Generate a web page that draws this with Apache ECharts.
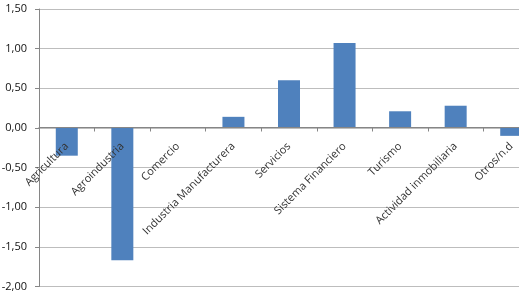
<!DOCTYPE html>
<html><head><meta charset="utf-8">
<script src="https://cdn.jsdelivr.net/npm/echarts@6/dist/echarts.min.js"></script>
<style>html,body{margin:0;padding:0;background:#fff}#c{width:519px;height:291px}</style>
</head><body><div id="c"></div>
<script>
var categories = ["Agricultura","Agroindustria","Comercio","Industria Manufacturera","Servicios","Sistema Financiero","Turismo","Actividad inmobiliaria","Otros/n.d"];
var values = [-0.35, -1.67, 0, 0.14, 0.60, 1.07, 0.21, 0.28, -0.10];
var chart = echarts.init(document.getElementById('c'));
chart.setOption({
  animation: false,
  grid: {left: 39, top: 9, width: 500, bottom: 4.5, containLabel: false, outerBoundsMode: 'none'},
  xAxis: {
    type: 'category', data: categories, offset: -159, z: 10,
    axisLine: {onZero: false, lineStyle: {color: '#868686', width: 1}},
    axisTick: {show: true, length: 4, lineStyle: {color: '#868686'}},
    axisLabel: {rotate: 45, interval: 0, margin: 17, fontFamily: 'Open Sans', fontSize: 11, color: '#333', hideOverlap: false}
  },
  yAxis: {
    type: 'value', min: -2, max: 1.5, interval: 0.5,
    axisLine: {show: true, lineStyle: {color: '#868686'}},
    axisTick: {show: true, length: 4, lineStyle: {color: '#868686'}},
    splitLine: {lineStyle: {color: '#bdbdbd'}},
    axisLabel: {margin: 12, fontFamily: 'Open Sans', fontSize: 11, color: '#111',
      formatter: function(v){ return v.toFixed(2).replace('.', ','); }}
  },
  series: [{type: 'bar', data: values, barWidth: 22, z: 2, itemStyle: {color: '#4F81BD'}}]
});
</script></body></html>
